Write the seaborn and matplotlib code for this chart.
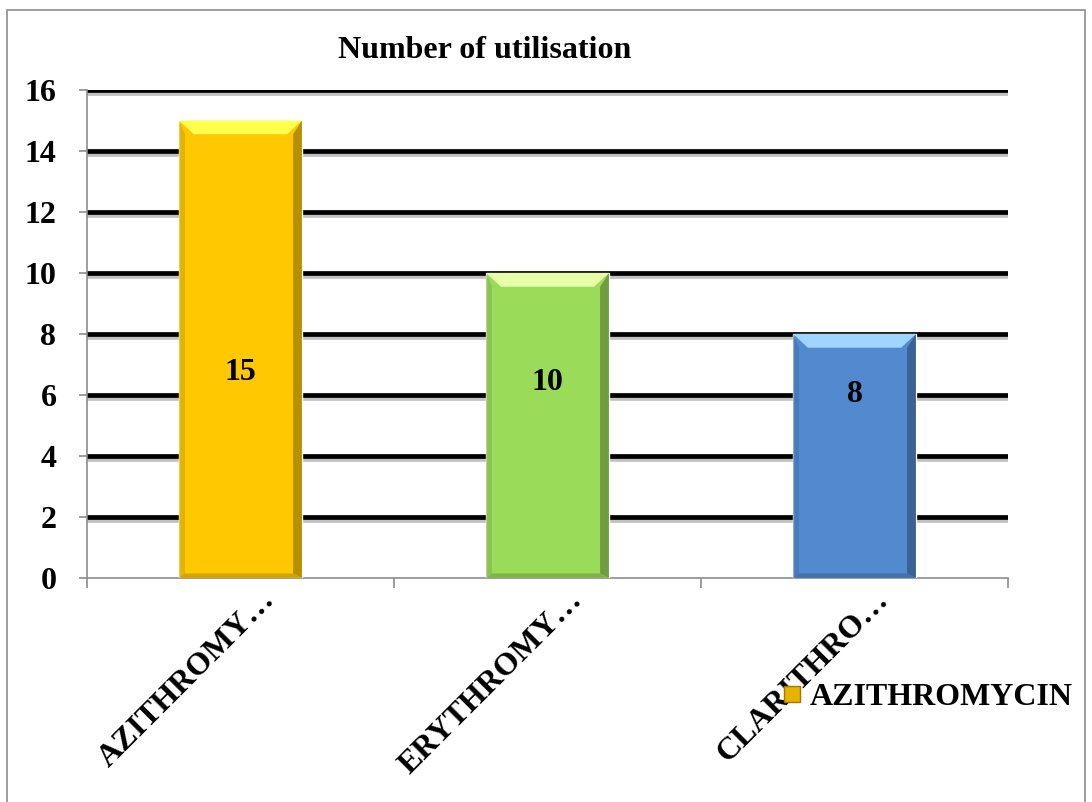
import matplotlib
matplotlib.use('Agg')
import matplotlib.pyplot as plt
import matplotlib.patheffects as pe
import matplotlib.transforms as mtransforms
from matplotlib.patches import Rectangle, Polygon
from matplotlib.lines import Line2D
import numpy as np
import pandas as pd
import seaborn as sns

# data
drugs = ['AZITHROMY…', 'ERYTHROMY…', 'CLARITHRO…']
counts = [15, 10, 8]
bar_colors = ['#FFC800', '#9BDB5A', '#5289CF']
title = 'Number of utilisation'
legend_label = 'AZITHROMYCIN'
yticks = [0, 2, 4, 6, 8, 10, 12, 14, 16]

df = pd.DataFrame({'drug': drugs, 'count': counts})

sns.set_style('white')
plt.rcParams['font.family'] = ['Liberation Serif', 'DejaVu Serif']
plt.rcParams['font.weight'] = 'bold'
plt.rcParams['text.color'] = 'black'
plt.rcParams['xtick.color'] = 'black'
plt.rcParams['ytick.color'] = 'black'

fs = 23

fig = plt.figure(figsize=(10.92, 8.02), dpi=100)
ax = fig.add_axes([0.0797, 0.2793, 0.8434, 0.6085])

# outer chart border
fig.patches.append(Rectangle((7 / 1092, -0.05), 1078 / 1092, 1 - 10 / 802 + 0.05,
                             transform=fig.transFigure, fill=False,
                             edgecolor='#8c8c8c', linewidth=1.2))

sns.barplot(data=df, x='drug', y='count', hue='drug', palette=bar_colors,
            width=0.4, legend=False, ax=ax, zorder=3, saturation=1)

ax.set_ylim(0, 16)
ax.set_xlim(-0.5, 2.5)
ax.set_yticks(yticks)
ax.set_yticklabels([str(v) for v in yticks], fontsize=fs, fontweight='bold')
ax.set_xlabel('')
ax.set_ylabel('')

# thick black gridlines with a soft shadow
for v in yticks[1:]:
    ax.axhline(v, color='black', lw=3.4, zorder=1,
               path_effects=[pe.SimpleLineShadow(offset=(0, -2.5), shadow_color='#999999', alpha=0.6),
                             pe.Normal()])

for s in ['top', 'right']:
    ax.spines[s].set_visible(False)
for s in ['left', 'bottom']:
    ax.spines[s].set_color('#8c8c8c')
    ax.spines[s].set_linewidth(1.2)

ax.tick_params(axis='y', left=True, length=6, color='#8c8c8c', width=1.2, pad=16,
               labelcolor='black')
ax.set_xticks(range(len(drugs)))
ax.set_xticklabels(drugs, rotation=45, ha='right', rotation_mode='anchor',
                   fontsize=fs, fontweight='bold')
ax.tick_params(axis='x', bottom=False, pad=2, labelcolor='black')
ax.set_xticks([-0.5, 0.5, 1.5, 2.5], minor=True)
ax.tick_params(axis='x', which='minor', bottom=True, length=7, color='#8c8c8c', width=1.2)
shift = mtransforms.ScaledTranslation(20 / 100, 0, fig.dpi_scale_trans)
for lab in ax.get_xticklabels():
    lab.set_transform(lab.get_transform() + shift)

# bevel look on bars
for bar, col in zip(ax.patches, bar_colors):
    x0, y0 = bar.get_x(), bar.get_y()
    w, h = bar.get_width(), bar.get_height()
    dx = w * 0.12
    dy = 0.45
    rgb = np.array(matplotlib.colors.to_rgb(col))
    light = np.clip(rgb + 0.3, 0, 1)
    dark = rgb * 0.6
    ax.add_patch(Polygon([(x0, y0 + h), (x0 + w, y0 + h), (x0 + w - dx, y0 + h - dy), (x0 + dx, y0 + h - dy)],
                         closed=True, facecolor=light, edgecolor='none', zorder=4))
    ax.add_patch(Polygon([(x0 + w, y0 + h), (x0 + w, y0), (x0 + w - dx * 0.6, y0 + 0.15), (x0 + w - dx * 0.6, y0 + h - dy)],
                         closed=True, facecolor=dark, edgecolor='none', zorder=4, alpha=0.7))
    ax.add_patch(Polygon([(x0, y0 + h), (x0, y0), (x0 + dx * 0.4, y0 + 0.15), (x0 + dx * 0.4, y0 + h - dy)],
                         closed=True, facecolor=rgb * 0.85, edgecolor='none', zorder=4, alpha=0.7))
    ax.add_patch(Polygon([(x0, y0), (x0 + w, y0), (x0 + w - dx * 0.6, y0 + 0.15), (x0 + dx * 0.4, y0 + 0.15)],
                         closed=True, facecolor=rgb * 0.75, edgecolor='none', zorder=4, alpha=0.7))

# value labels inside the bars
label_y = [6.75, 6.4, 6.0]
for i, (c, ly) in enumerate(zip(counts, label_y)):
    ax.text(i, ly, str(c), ha='center', va='center', fontsize=fs, fontweight='bold', zorder=5)

fig.text(485 / 1092, 1 - 50 / 802, title, ha='center', va='center',
         fontsize=fs, fontweight='bold')

handle = Line2D([], [], marker='s', linestyle='none', markersize=11,
                markerfacecolor='#E6B400', markeredgecolor='#A07800')
fig.legend([handle], [legend_label], loc='center left',
           bbox_to_anchor=(754 / 1092, 1 - 697 / 802), frameon=False,
           handletextpad=0.05, handlelength=1.0, borderpad=0.2,
           prop={'size': 23, 'weight': 'bold'})

fig.savefig('out.png', dpi=100)
